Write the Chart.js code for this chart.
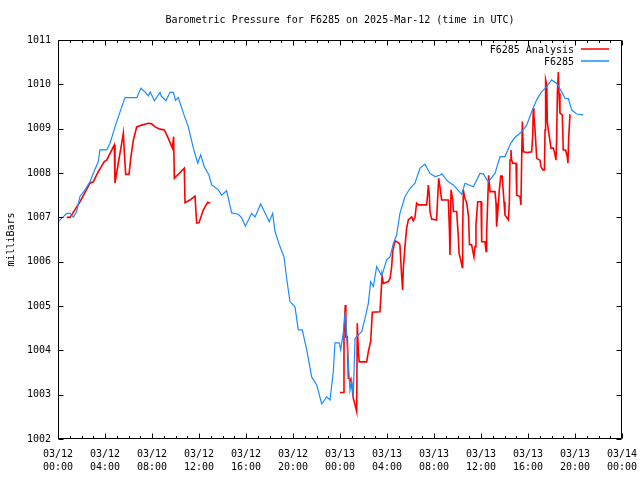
<!DOCTYPE html>
<html><head><meta charset="utf-8">
<script src="https://cdn.jsdelivr.net/npm/chart.js@4/dist/chart.umd.min.js"></script>
<style>html,body{margin:0;padding:0;background:#fff}</style>
</head><body>
<canvas id="c" width="640" height="480"></canvas>
<script>
const chartTitle = 'Barometric Pressure for F6285 on 2025-Mar-12 (time in UTC)';
const yAxisTitle = 'milliBars';
const tickDates = ['03/12','03/12','03/12','03/12','03/12','03/12','03/13','03/13','03/13','03/13','03/13','03/13','03/14'];
const tickTimes = ['00:00','04:00','08:00','12:00','16:00','20:00','00:00','04:00','08:00','12:00','16:00','20:00','00:00'];
const yTicks = [1002,1003,1004,1005,1006,1007,1008,1009,1010,1011];

// hours since 03/12 00:00 UTC
const blueName = 'F6285';
const blueHours = [0.0,0.4,0.74,1.02,1.3,1.59,1.87,2.3,2.72,3.0,3.43,3.57,4.14,4.43,4.85,5.28,5.7,6.7,7.06,7.4,7.69,7.85,8.2,8.68,8.8,9.19,9.53,9.82,10.0,10.24,10.67,11.09,11.52,11.89,12.14,12.45,12.85,13.08,13.65,13.93,14.35,14.78,15.35,15.63,15.95,16.48,16.77,17.25,17.62,17.98,18.27,18.47,18.89,19.23,19.46,19.74,20.17,20.45,20.79,21.17,21.59,22.02,22.44,22.87,23.15,23.43,23.57,23.94,24.06,24.28,24.45,24.57,24.85,24.99,25.13,25.28,25.56,25.85,26.13,26.41,26.61,26.84,27.12,27.55,27.97,28.26,28.54,28.82,29.1,29.53,29.96,30.38,30.81,31.23,31.66,32.09,32.51,32.65,33.22,33.65,34.36,34.64,35.35,35.91,36.2,36.62,37.19,37.62,38.04,38.53,38.89,39.46,39.89,40.31,40.74,41.16,41.59,42.01,42.44,42.87,43.15,43.43,43.72,44.14,44.71];
const blueValues = [1006.90,1007.0,1007.09,1007.09,1007.0,1007.13,1007.47,1007.62,1007.80,1007.99,1008.26,1008.52,1008.52,1008.67,1009.04,1009.38,1009.70,1009.70,1009.91,1009.83,1009.74,1009.83,1009.63,1009.82,1009.73,1009.63,1009.82,1009.82,1009.64,1009.70,1009.35,1009.04,1008.56,1008.22,1008.41,1008.14,1007.95,1007.73,1007.62,1007.50,1007.60,1007.10,1007.07,1006.99,1006.80,1007.09,1007.01,1007.30,1007.10,1006.90,1007.09,1006.68,1006.34,1006.11,1005.62,1005.10,1004.98,1004.46,1004.46,1004.01,1003.40,1003.22,1002.79,1002.95,1002.88,1003.52,1004.17,1004.17,1004.01,1004.40,1004.87,1004.31,1003.10,1003.33,1002.95,1004.27,1004.35,1004.42,1004.72,1005.06,1005.55,1005.44,1005.89,1005.68,1006.04,1006.11,1006.41,1006.60,1007.09,1007.47,1007.65,1007.77,1008.11,1008.20,1007.99,1007.92,1007.95,1007.98,1007.80,1007.73,1007.52,1007.77,1007.69,1007.99,1007.98,1007.80,1007.99,1008.37,1008.37,1008.67,1008.80,1008.93,1009.08,1009.38,1009.65,1009.83,1009.95,1010.10,1010.02,1009.83,1009.68,1009.68,1009.42,1009.33,1009.31];

const redName = 'F6285 Analysis';
const redHours = [0.74,1.02,1.87,2.72,3.0,3.43,3.94,4.14,4.79,4.85,5.13,5.42,5.56,5.65,5.76,6.04,6.21,6.41,6.7,7.12,7.69,7.97,8.26,8.68,9.05,9.39,9.73,9.84,9.9,10.3,10.75,10.81,11.23,11.66,11.8,12.0,12.37,12.74,12.96,18.5,24.0,24.28,24.34,24.45,24.5,24.62,24.71,24.85,24.99,25.13,25.28,25.42,25.47,25.56,25.64,26.27,26.41,26.61,26.75,27.4,27.49,27.58,27.69,28.11,28.26,28.40,28.48,28.68,28.96,29.1,29.24,29.33,29.39,29.53,29.67,29.81,30.1,30.24,30.38,30.52,30.67,31.38,31.52,31.6,31.66,31.8,32.22,32.31,32.4,32.51,32.65,33.22,33.31,33.36,33.45,33.6,33.65,33.93,34.07,34.13,34.27,34.41,34.44,34.5,34.6,34.79,34.94,35.02,35.2,35.29,35.4,35.49,35.57,35.72,36.0,36.06,36.34,36.43,36.48,36.57,36.65,36.77,37.19,37.28,37.33,37.42,37.56,37.68,37.8,37.96,38.04,38.33,38.41,38.47,38.55,38.6,38.7,38.98,39.04,39.32,39.4,39.46,39.52,39.6,39.94,40.31,40.4,40.45,40.5,40.6,40.74,41.02,41.11,41.26,41.4,41.45,41.5,41.6,41.64,41.73,41.96,42.16,42.3,42.38,42.44,42.5,42.58,42.64,42.72,42.92,43.0,43.2,43.34,43.4,43.46,43.57,43.6];
const redValues = [1007.0,1007.0,1007.35,1007.77,1007.80,1008.03,1008.26,1008.29,1008.63,1007.77,1008.22,1008.67,1008.90,1008.44,1007.97,1007.97,1008.37,1008.74,1009.04,1009.08,1009.12,1009.11,1009.04,1008.99,1008.97,1008.78,1008.56,1008.82,1007.88,1007.99,1008.11,1007.33,1007.39,1007.48,1006.87,1006.88,1007.17,1007.34,1007.32,null,1003.05,1003.05,1004.40,1005.02,1004.3,1004.31,1003.37,1003.37,1003.26,1002.92,1002.77,1002.62,1004.61,1003.97,1003.74,1003.74,1003.97,1004.20,1004.86,1004.87,1005.25,1005.68,1005.51,1005.55,1005.62,1005.89,1006.22,1006.47,1006.43,1006.38,1005.70,1005.36,1005.85,1006.34,1006.75,1006.94,1007.01,1006.92,1007.0,1007.32,1007.28,1007.28,1007.73,1007.5,1007.13,1006.96,1006.94,1007.43,1007.88,1007.68,1007.39,1007.39,1006.75,1006.15,1007.62,1007.39,1007.13,1007.13,1006.56,1006.19,1006.04,1005.87,1006.71,1007.62,1007.45,1007.32,1007.01,1006.38,1006.38,1006.26,1006.11,1006.34,1006.83,1007.35,1007.35,1006.45,1006.45,1006.23,1006.64,1007.35,1007.95,1007.58,1007.58,1007.32,1006.79,1007.09,1007.62,1007.93,1007.93,1007.35,1007.05,1006.94,1007.32,1008.29,1008.52,1008.3,1008.22,1008.22,1007.50,1007.47,1007.28,1008.29,1009.16,1008.48,1008.46,1008.48,1008.82,1009.46,1009.3,1008.97,1008.33,1008.29,1008.14,1008.07,1008.07,1008.97,1010.10,1009.98,1009.16,1008.97,1008.56,1008.56,1008.41,1008.29,1008.78,1009.80,1010.28,1009.80,1009.35,1009.31,1008.52,1008.52,1008.37,1008.22,1008.78,1009.31,1009.31];

const FONT = 'DejaVu Sans Mono';
const BLUE = '#1a8cff';
const RED = '#ff0000';

const toPts = (xs, ys) => xs.map((x, i) => ({x: x, y: ys[i]}));

const framePlugin = {
  id: 'frame',
  afterDatasetsDraw(chart) {
    const ctx = chart.ctx;
    const xs = chart.scales.x, ys = chart.scales.y;
    const a = chart.chartArea;
    const L = Math.round(a.left) + 0.5, R = Math.round(a.right) - 0.5;
    const T = Math.round(a.top) + 0.5, B = Math.round(a.bottom) - 0.5;
    ctx.save();
    ctx.strokeStyle = '#000';
    ctx.lineWidth = 1;
    ctx.beginPath();
    ctx.rect(L, T, R - L, B - T);
    for (const v of yTicks) {
      const p = Math.round(ys.getPixelForValue(v)) + 0.5;
      ctx.moveTo(L, p); ctx.lineTo(L + 5, p);
      ctx.moveTo(R, p); ctx.lineTo(R - 5, p);
    }
    for (let h = 0; h <= 48; h++) {
      const p = Math.round(xs.getPixelForValue(h)) + 0.5;
      const len = (h % 4 === 0) ? 5 : 2.5;
      ctx.moveTo(p, B); ctx.lineTo(p, B - len);
      ctx.moveTo(p, T); ctx.lineTo(p, T + len);
    }
    ctx.stroke();

    ctx.fillStyle = '#000';
    ctx.font = '10px "' + FONT + '"';
    ctx.textBaseline = 'middle';
    ctx.textAlign = 'center';
    ctx.fillText(chartTitle, (a.left + a.right) / 2, 20);

    ctx.save();
    ctx.translate(11, (a.top + a.bottom) / 2);
    ctx.rotate(-Math.PI / 2);
    ctx.fillText(yAxisTitle, 0, 0);
    ctx.restore();

    // legend (inside, top right)
    const items = chart.data.datasets.slice().reverse();
    items.forEach((ds, i) => {
      const y = 50 + i * 12;
      ctx.textAlign = 'right';
      ctx.fillStyle = '#000';
      ctx.fillText(ds.label, 574, y);
      ctx.strokeStyle = ds.borderColor;
      ctx.lineWidth = 1.5;
      ctx.beginPath();
      ctx.moveTo(581, y - 1); ctx.lineTo(609, y - 1);
      ctx.stroke();
    });
    ctx.restore();
  }
};

new Chart(document.getElementById('c'), {
  type: 'line',
  data: {
    datasets: [
      { label: blueName, data: toPts(blueHours, blueValues), borderColor: BLUE, borderWidth: 1.2, pointRadius: 0, tension: 0, fill: false },
      { label: redName, data: toPts(redHours, redValues), borderColor: RED, borderWidth: 1.6, pointRadius: 0, tension: 0, fill: false, spanGaps: false }
    ]
  },
  options: {
    responsive: false,
    animation: false,
    devicePixelRatio: 1,
    layout: { padding: { top: 40, right: 18, left: 0, bottom: 0 } },
    plugins: { legend: { display: false }, title: { display: false }, tooltip: { enabled: false } },
    scales: {
      x: {
        type: 'linear', min: 0, max: 48,
        grid: { display: false, drawTicks: false },
        border: { display: false },
        afterFit: s => { s.height = 41; s.paddingLeft = 0; s.paddingRight = 0; },
        ticks: {
          stepSize: 4, autoSkip: false, maxRotation: 0, minRotation: 0, padding: 9,
          color: '#000', font: { family: FONT, size: 10, lineHeight: 1.3 },
          callback: v => { const i = Math.round(v / 4); return [tickDates[i], tickTimes[i]]; }
        }
      },
      y: {
        type: 'linear', min: 1002, max: 1011,
        grid: { display: false, drawTicks: false },
        border: { display: false },
        afterFit: s => { s.width = 58; s.paddingTop = 0; s.paddingBottom = 0; },
        ticks: {
          stepSize: 1, padding: 7, color: '#000',
          font: { family: FONT, size: 10 },
          callback: v => String(v)
        }
      }
    }
  },
  plugins: [framePlugin]
});
</script>
</body></html>
